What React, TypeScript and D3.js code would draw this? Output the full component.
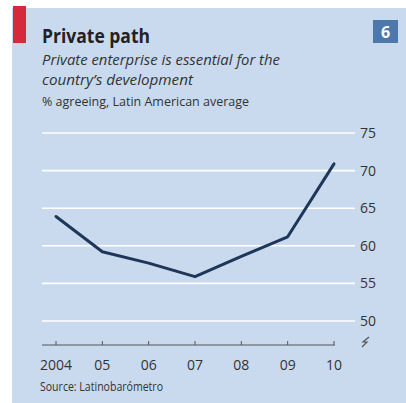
import React from "react";
import * as d3 from "d3";

const years = [2004, 2005, 2006, 2007, 2008, 2009, 2010];
const yearLabels = ["2004", "05", "06", "07", "08", "09", "10"];
const values = [63.9, 59.2, 57.7, 55.9, 58.6, 61.2, 70.9];
const yTicks = [50, 55, 60, 65, 70, 75];

const W = 406;
const H = 403;

export default function App() {
  const x = d3.scaleLinear().domain([2004, 2010]).range([56, 334]);
  const y = d3.scaleLinear().domain([50, 75]).range([321, 133]);
  const line = d3
    .line<number>()
    .x((_, i) => x(years[i]))
    .y((d) => y(d));
  const font = "'Open Sans', 'DejaVu Sans', sans-serif";
  const axisY = 345;
  return (
    <svg
      width={W}
      height={H}
      style={{ position: "absolute", left: 0, top: 0 }}
      fontFamily={font}
    >
      <rect x={0} y={0} width={W} height={H} fill="#ffffff" />
      <rect x={12} y={8} width={W - 12} height={H - 8} fill="#c9daef" />
      <rect x={13} y={6} width={13} height={37} fill="#d42a3c" />
      <rect x={373} y={20} width={25} height={23} fill="#4d78ac" />
      <text x={385.5} y={38} textAnchor="middle" fill="#ffffff" fontSize={16} fontWeight="bold">
        6
      </text>
      <text x={42} y={43} fontSize={19} fontWeight="bold" fill="#222" textLength={108} lengthAdjust="spacingAndGlyphs">
        Private path
      </text>
      <text x={42} y={65} fontSize={15} fontStyle="italic" fill="#333" textLength={238} lengthAdjust="spacingAndGlyphs">
        Private enterprise is essential for the
      </text>
      <text x={42} y={85} fontSize={15} fontStyle="italic" fill="#333" textLength={151} lengthAdjust="spacingAndGlyphs">
        country’s development
      </text>
      <text x={42} y={106} fontSize={12.5} fill="#333" textLength={207} lengthAdjust="spacingAndGlyphs">
        % agreeing, Latin American average
      </text>
      {yTicks.map((t) => (
        <g key={t}>
          <line x1={42} x2={355} y1={y(t)} y2={y(t)} stroke="#ffffff" strokeWidth={1.6} />
          <text x={360} y={y(t) + 5} fontSize={14} fill="#333">
            {t}
          </text>
        </g>
      ))}
      <line x1={42} x2={335} y1={axisY} y2={axisY} stroke="#555" strokeWidth={1} />
      {years.map((yr, i) => (
        <g key={yr}>
          <line x1={x(yr)} x2={x(yr)} y1={axisY} y2={axisY - 4} stroke="#555" strokeWidth={1} />
          <text x={x(yr)} y={370} textAnchor="middle" fontSize={14} fill="#333">
            {yearLabels[i]}
          </text>
        </g>
      ))}
      <path
        d="M362,347 L367,342 L363,342 L369,337"
        fill="none"
        stroke="#555"
        strokeWidth={1.2}
      />
      <path d={line(values) ?? ""} fill="none" stroke="#1e3658" strokeWidth={3} strokeLinejoin="round" strokeLinecap="round" />
      <text x={40} y={391} fontSize={12} fill="#333" textLength={123} lengthAdjust="spacingAndGlyphs">
        Source: Latinobarómetro
      </text>
    </svg>
  );
}
